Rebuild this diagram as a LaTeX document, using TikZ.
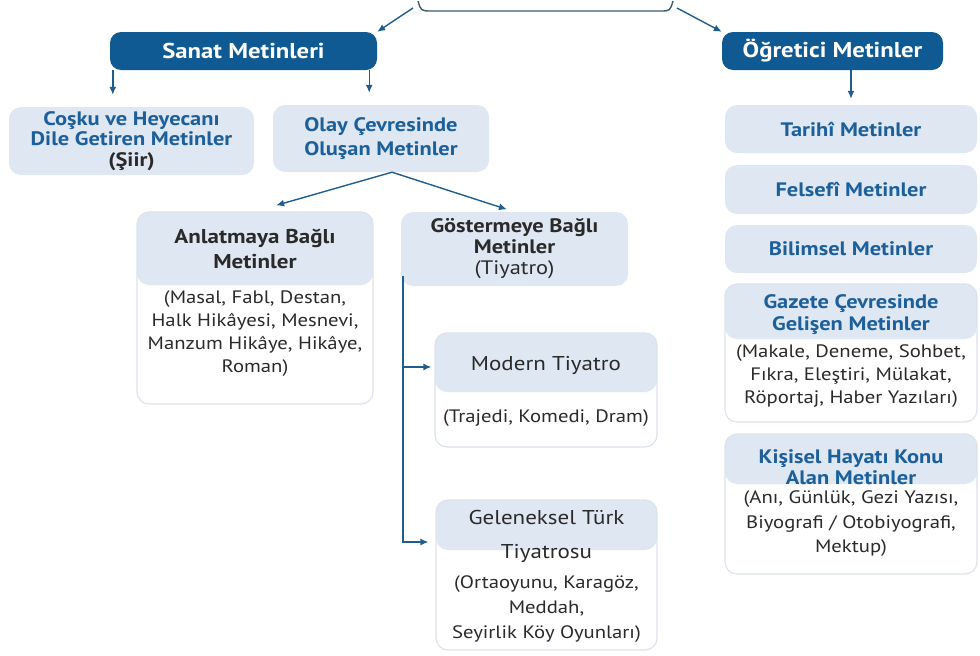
\documentclass[tikz,border=0pt]{standalone}
\usepackage{fontspec}
\setmainfont{PT Sans}[FakeStretch=1.15]
\usetikzlibrary{positioning,arrows.meta}
\definecolor{koyumavi}{HTML}{0F5A92}
\definecolor{acikmavi}{HTML}{DEE7F2}
\definecolor{baslikmavi}{HTML}{1C5F9B}
\definecolor{yazirengi}{HTML}{2A2A2A}
\definecolor{cerceve}{HTML}{DCE3EC}
\definecolor{okrengi}{HTML}{1F5D8E}
\definecolor{ayracrengi}{HTML}{3A5A70}
\tikzset{
  anakutu/.style={fill=koyumavi, rounded corners=11pt, text=white, minimum height=38pt,
    font=\fontsize{21.5}{24}\selectfont\bfseries},
  kutu/.style={fill=acikmavi, rounded corners=12pt, align=center, text=baslikmavi,
    font=\fontsize{19.5}{20.5}\selectfont\bfseries},
  ikikutu/.style={draw=cerceve, line width=1.2pt, fill=white, rounded corners=12pt,
    path picture={\fill[acikmavi] (path picture bounding box.north west)
      rectangle ([yshift=-#1]path picture bounding box.north east);}},
  mavibaslik/.style={text=baslikmavi, align=center, font=\fontsize{19.5}{22}\selectfont\bfseries},
  koyubaslik/.style={text=yazirengi, align=center, font=\fontsize{20}{25}\selectfont\bfseries},
  duzbaslik/.style={text=yazirengi, align=center, font=\fontsize{20}{34}\selectfont},
  govde/.style={text=yazirengi, align=center, font=\fontsize{18}{23}\selectfont},
  ok/.style={-{Latex[length=8pt,width=7pt]}, draw=okrengi, line width=1.4pt},
  ayrac/.style={draw=ayracrengi, line width=1.4pt}
}
\begin{document}
\begin{tikzpicture}[x=1pt,y=-1pt]
\useasboundingbox (0,0) rectangle (980,656);

% ust ayrac
\draw[ayrac] (418,1) .. controls (421,11) .. (432,11) -- (660,11) .. controls (670,11) .. (673,1);
\coordinate (ayracsol) at (413,8);
\coordinate (ayracsag) at (677,8);

% ana basliklar
\node[anakutu, minimum width=267pt] (sanat) at (243.5,51) {Sanat Metinleri};
\node[anakutu, minimum width=221pt] (ogretici) at (832.5,51) {Öğretici Metinler};

% sanat metinleri kolu
\node[kutu, minimum width=245pt, minimum height=68pt] (cosku) at (131.5,141)
  {Coşku ve Heyecanı\\Dile Getiren Metinler\\\textcolor{yazirengi}{(Şiir)}};
\node[kutu, minimum width=216pt, minimum height=67pt, font=\fontsize{19.5}{24}\selectfont\bfseries] (olay) at (381,138.5)
  {Olay Çevresinde\\Oluşan Metinler};

\node[ikikutu=73pt, minimum width=236pt, minimum height=192pt] (anlatma) at (255,308) {};
\node[koyubaslik] (anlatmabaslik) at (255,249) {Anlatmaya Bağlı\\Metinler};
\node[govde] (anlatmaicerik) at (255,334)
  {(Masal, Fabl, Destan,\\Halk Hikâyesi, Mesnevi,\\Manzum Hikâye, Hikâye,\\Roman)};

\node[kutu, minimum width=227pt, minimum height=74pt, text=yazirengi,
  font=\fontsize{19.5}{21}\selectfont] (gosterme) at (514.5,249)
  {\textbf{Göstermeye Bağlı}\\\textbf{Metinler}\\(Tiyatro)};

\node[ikikutu=59pt, minimum width=222pt, minimum height=114pt] (modern) at (546,390) {};
\node[duzbaslik] (modernbaslik) at (546,365) {Modern Tiyatro};
\node[govde] (modernicerik) at (546,418) {(Trajedi, Komedi, Dram)};

\node[ikikutu=50pt, minimum width=221pt, minimum height=150pt] (geleneksel) at (546.5,575) {};
\node[duzbaslik] (gelenekselbaslik) at (546.5,536) {Geleneksel Türk\\Tiyatrosu};
\node[govde, font=\fontsize{18}{25}\selectfont] (gelenekselicerik) at (546.5,609)
  {(Ortaoyunu, Karagöz,\\Meddah,\\Seyirlik Köy Oyunları)};

% ogretici metinler kolu
\node[kutu, minimum width=252pt, minimum height=48pt] (tarihi) at (851,129) {Tarihî Metinler};
\node[kutu, minimum width=252pt, minimum height=49pt] (felsefi) at (851,189.5) {Felsefî Metinler};
\node[kutu, minimum width=252pt, minimum height=48pt] (bilimsel) at (851,249) {Bilimsel Metinler};

\node[ikikutu=55pt, minimum width=252pt, minimum height=138pt] (gazete) at (851,353) {};
\node[mavibaslik] (gazetebaslik) at (851,315) {Gazete Çevresinde\\Gelişen Metinler};
\node[govde] (gazeteicerik) at (851,376)
  {(Makale, Deneme, Sohbet,\\Fıkra, Eleştiri, Mülakat,\\Röportaj, Haber Yazıları)};

\node[ikikutu=50pt, minimum width=252pt, minimum height=140pt] (kisisel) at (851,504) {};
\node[mavibaslik, font=\fontsize{19.5}{21}\selectfont\bfseries] (kisiselbaslik) at (851,467)
  {Kişisel Hayatı Konu\\Alan Metinler};
\node[govde, font=\fontsize{18}{24.5}\selectfont] (kisiselicerik) at (851,524)
  {(Anı, Günlük, Gezi Yazısı,\\Biyografi / Otobiyografi,\\Mektup)};

% oklar
\draw[ok] (ayracsol) -- (sanat.north east);
\draw[ok] (ayracsag) -- (ogretici.north west);
\draw[ok, shorten >=12pt] ([xshift=3pt]sanat.south west) -- ([xshift=3pt]sanat.south west |- cosku.north);
\draw[ok, shorten >=12pt] ([xshift=-8pt]sanat.south east) -- ([xshift=-8pt]sanat.south east |- olay.north);
\draw[ok, shorten >=6pt] (ogretici.south -| tarihi.north) -- (tarihi.north);

\coordinate (catal) at ([xshift=11pt]olay.south);
\draw[ok, shorten >=22pt] (catal) -- (anlatma.north);
\draw[ok, shorten >=8pt] (catal) -- (gosterme.north);

\coordinate (dikey) at ([xshift=2pt,yshift=10pt]gosterme.south west);
\coordinate (modernucu) at ([yshift=23pt]modern.west);
\coordinate (gelenekselucu) at ([yshift=33pt]geleneksel.west);
\draw[ok, shorten >=7pt] (dikey) |- (gelenekselucu);
\draw[ok, shorten >=3pt] (dikey |- modernucu) -- (modernucu);
\end{tikzpicture}
\end{document}
